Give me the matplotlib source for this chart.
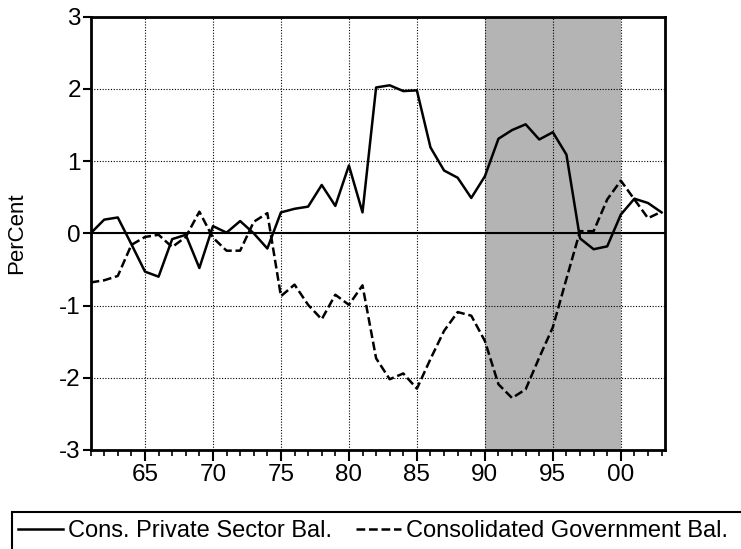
import matplotlib
matplotlib.use("Agg")
import matplotlib.pyplot as plt
from matplotlib.patches import Rectangle
from matplotlib.ticker import MultipleLocator, FuncFormatter

plt.rcParams['font.family'] = ['Liberation Sans', 'DejaVu Sans']

years = list(range(1961, 2004))
private_bal = [0.00, 0.19, 0.22, -0.15, -0.53, -0.60, -0.08, -0.02, -0.48, 0.10,
               0.01, 0.17, 0.00, -0.21, 0.29, 0.34, 0.37, 0.67, 0.38, 0.94,
               0.29, 2.02, 2.05, 1.97, 1.98, 1.19, 0.87, 0.77, 0.49, 0.79,
               1.31, 1.43, 1.51, 1.30, 1.40, 1.09, -0.07, -0.22, -0.18, 0.26,
               0.48, 0.42, 0.29]
gov_bal = [-0.68, -0.65, -0.59, -0.16, -0.05, -0.02, -0.19, -0.05, 0.30, -0.06,
           -0.24, -0.24, 0.16, 0.28, -0.87, -0.71, -0.99, -1.19, -0.85, -0.99,
           -0.72, -1.73, -2.02, -1.94, -2.15, -1.74, -1.35, -1.09, -1.14, -1.49,
           -2.09, -2.28, -2.16, -1.72, -1.30, -0.63, 0.03, 0.03, 0.47, 0.73,
           0.47, 0.21, 0.30]
shade_start, shade_end = 1990, 2000
labels = ["Cons. Private Sector Bal.", "Consolidated Government Bal."]
y_label = "PerCent"

W, H = 741, 549
fig = plt.figure(figsize=(W / 100, H / 100), dpi=100)
left, right, top, bottom = 90.6, 665, 16.7, 450
ax = fig.add_axes([left / W, 1 - bottom / H, (right - left) / W, (bottom - top) / H])

ax.axvspan(shade_start, shade_end, color='#b4b4b4', lw=0, zorder=1)
ax.axhline(0, color='black', lw=1.5, zorder=1.8)
l1, = ax.plot(years, private_bal, color='black', lw=1.8, zorder=3)
l2, = ax.plot(years, gov_bal, color='black', lw=1.8, dashes=(3.5, 1.5), zorder=3)

ax.set_xlim(1961, 2003.25)
ax.set_ylim(-3, 3)
ax.xaxis.set_major_locator(MultipleLocator(5))
ax.xaxis.set_minor_locator(MultipleLocator(1))
ax.yaxis.set_major_locator(MultipleLocator(1))
ax.xaxis.set_major_formatter(FuncFormatter(lambda v, p: f"{int(round(v)) % 100:02d}"))
ax.yaxis.set_major_formatter(FuncFormatter(lambda v, p: f"{int(round(v))}"))

ax.grid(True, which='major', color='black', lw=0.8, linestyle=(0, (1, 1.5)))
for s in ax.spines.values():
    s.set_linewidth(2.0)

ax.tick_params(axis='x', which='major', direction='out', length=8, width=1.5,
               pad=2, labelsize=17.5)
ax.tick_params(axis='x', which='minor', direction='out', length=4, width=1.2)
ax.tick_params(axis='y', which='major', direction='out', length=5.5, width=1.5,
               pad=1.5, labelsize=17.5)
ax.set_ylabel(y_label, fontsize=16, labelpad=23)

# legend box
fig.patches.append(Rectangle((12 / W, -0.2), 1.2, (1 - 512 / H) + 0.2,
                             transform=fig.transFigure, fill=False,
                             edgecolor='black', lw=1.5))
fig.legend([l1, l2], labels, loc='center left',
           bbox_to_anchor=(18 / W, 1 - 531 / H), ncol=2, frameon=False,
           fontsize=17, handlelength=1.9, handletextpad=0.22,
           columnspacing=1.0, borderpad=0, borderaxespad=0)

fig.savefig("out.png", dpi=100)
